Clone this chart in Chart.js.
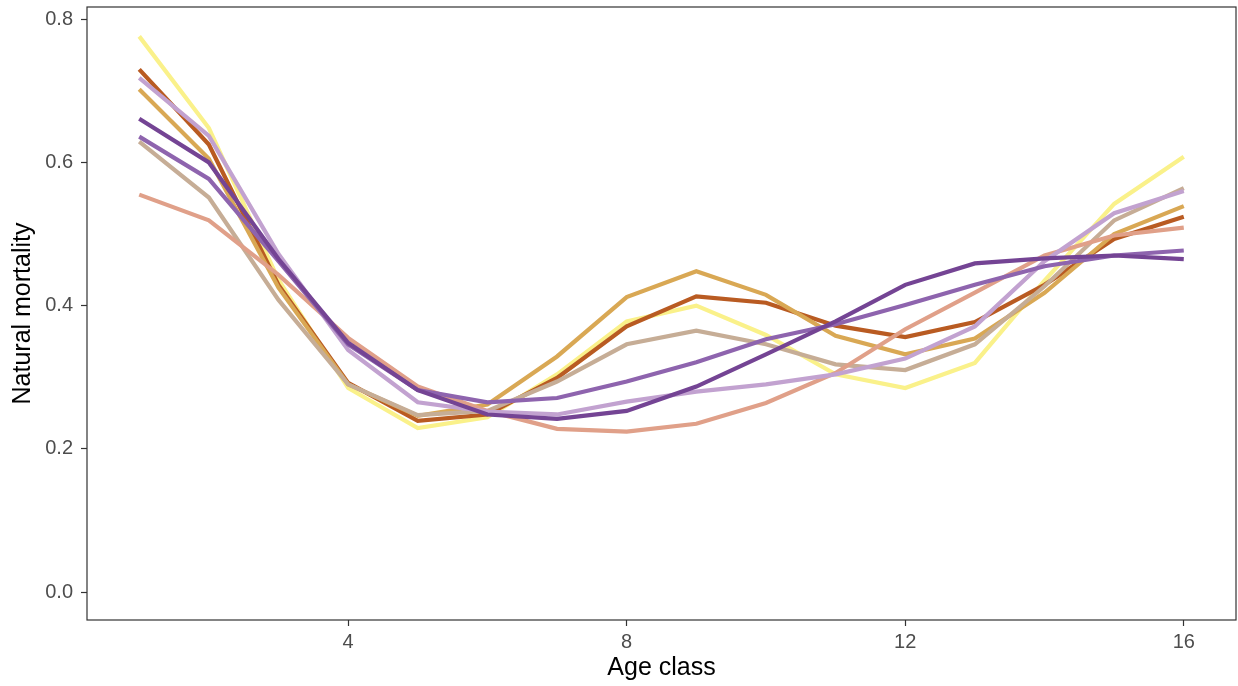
<!DOCTYPE html>
<html lang="en">
<head>
    <meta charset="UTF-8">
    <title>Natural mortality by age class</title>
    <script src="https://cdn.jsdelivr.net/npm/chart.js"></script>
    <style>
        html, body { margin: 0; padding: 0; background: #fff; }
        #wrap { width: 1238px; height: 686px; }
    </style>
</head>
<body>
    <div id="wrap"><canvas id="mortalityChart" width="1238" height="686"></canvas></div>

    <script>
        // age classes on the x axis
        const ages = [1, 2, 3, 4, 5, 6, 7, 8, 9, 10, 11, 12, 13, 14, 15, 16];
        const xTicks = [4, 8, 12, 16];
        const yTicks = [0.0, 0.2, 0.4, 0.6, 0.8];

        // one curve per run
        const darkPurple  = [0.661, 0.600, 0.465, 0.348, 0.282, 0.248, 0.242, 0.253, 0.287, 0.332, 0.378, 0.429, 0.459, 0.466, 0.470, 0.465];
        const midPurple   = [0.636, 0.577, 0.462, 0.346, 0.282, 0.265, 0.271, 0.294, 0.321, 0.353, 0.374, 0.401, 0.429, 0.455, 0.470, 0.477];
        const lightPurple = [0.718, 0.637, 0.472, 0.338, 0.265, 0.252, 0.248, 0.266, 0.280, 0.290, 0.304, 0.326, 0.371, 0.462, 0.529, 0.560];
        const salmon      = [0.555, 0.519, 0.443, 0.355, 0.287, 0.253, 0.228, 0.224, 0.235, 0.264, 0.306, 0.367, 0.418, 0.470, 0.498, 0.509];
        const tan         = [0.629, 0.551, 0.408, 0.290, 0.247, 0.253, 0.294, 0.346, 0.365, 0.346, 0.318, 0.310, 0.346, 0.427, 0.519, 0.564];
        const gold        = [0.702, 0.605, 0.425, 0.290, 0.246, 0.262, 0.329, 0.412, 0.448, 0.415, 0.358, 0.332, 0.354, 0.418, 0.500, 0.539];
        const rust        = [0.730, 0.625, 0.429, 0.292, 0.239, 0.248, 0.299, 0.371, 0.413, 0.404, 0.372, 0.356, 0.377, 0.429, 0.493, 0.524];
        const yellow      = [0.776, 0.648, 0.436, 0.285, 0.229, 0.244, 0.304, 0.378, 0.400, 0.359, 0.304, 0.285, 0.320, 0.435, 0.542, 0.608];

        const series = [
            { values: darkPurple,  color: '#744494' },
            { values: midPurple,   color: '#8e64ae' },
            { values: lightPurple, color: '#c2a2d0' },
            { values: salmon,      color: '#e0a089' },
            { values: tan,         color: '#c6ad96' },
            { values: gold,        color: '#d9a854' },
            { values: rust,        color: '#b95b22' },
            { values: yellow,      color: '#faf18a' }
        ];

        // full panel border like the ggplot theme
        const panelBox = {
            id: 'panelBox',
            afterDraw(chart) {
                const a = chart.chartArea;
                const c = chart.ctx;
                c.save();
                c.strokeStyle = '#333333';
                c.lineWidth = 1.2;
                c.strokeRect(a.left, a.top, a.right - a.left, a.bottom - a.top);
                c.restore();
            }
        };

        const tickFont = { family: 'Liberation Sans, Arial', size: 20 };
        const titleFont = { family: 'Liberation Sans, Arial', size: 25 };

        const ctx = document.getElementById('mortalityChart').getContext('2d');
        new Chart(ctx, {
            type: 'line',
            data: {
                datasets: series.map((s, i) => ({
                    label: 'run ' + (i + 1),
                    data: ages.map((a, j) => ({ x: a, y: s.values[j] })),
                    borderColor: s.color,
                    borderWidth: 4.2,
                    pointRadius: 0,
                    fill: false,
                    tension: 0
                }))
            },
            plugins: [panelBox],
            options: {
                responsive: false,
                animation: false,
                layout: { padding: { top: 7, right: 2, left: 0, bottom: 0 } },
                plugins: {
                    legend: { display: false },
                    tooltip: { enabled: false }
                },
                scales: {
                    x: {
                        type: 'linear',
                        min: 0.25,
                        max: 16.75,
                        afterBuildTicks: axis => { axis.ticks = xTicks.map(v => ({ value: v })); },
                        afterFit: axis => { axis.height = 66; axis.paddingLeft = 0; axis.paddingRight = 0; },
                        grid: { drawOnChartArea: false, tickLength: 6, color: '#333333', tickWidth: 1.2 },
                        border: { display: false },
                        ticks: { color: '#4d4d4d', font: tickFont, padding: 4, maxRotation: 0 },
                        title: { display: true, text: 'Age class', color: '#000', font: titleFont, padding: { top: 0, bottom: 3 } }
                    },
                    y: {
                        min: -0.039,
                        max: 0.817,
                        afterBuildTicks: axis => { axis.ticks = yTicks.map(v => ({ value: v })); },
                        afterFit: axis => { axis.width = 87; axis.paddingTop = 0; axis.paddingBottom = 0; },
                        grid: { drawOnChartArea: false, tickLength: 6, color: '#333333', tickWidth: 1.2 },
                        border: { display: false },
                        ticks: { color: '#4d4d4d', font: tickFont, padding: 8, callback: v => v.toFixed(1) },
                        title: { display: true, text: 'Natural mortality', color: '#000', font: titleFont, padding: { top: 8, bottom: 4 } }
                    }
                }
            }
        });
    </script>
</body>
</html>
